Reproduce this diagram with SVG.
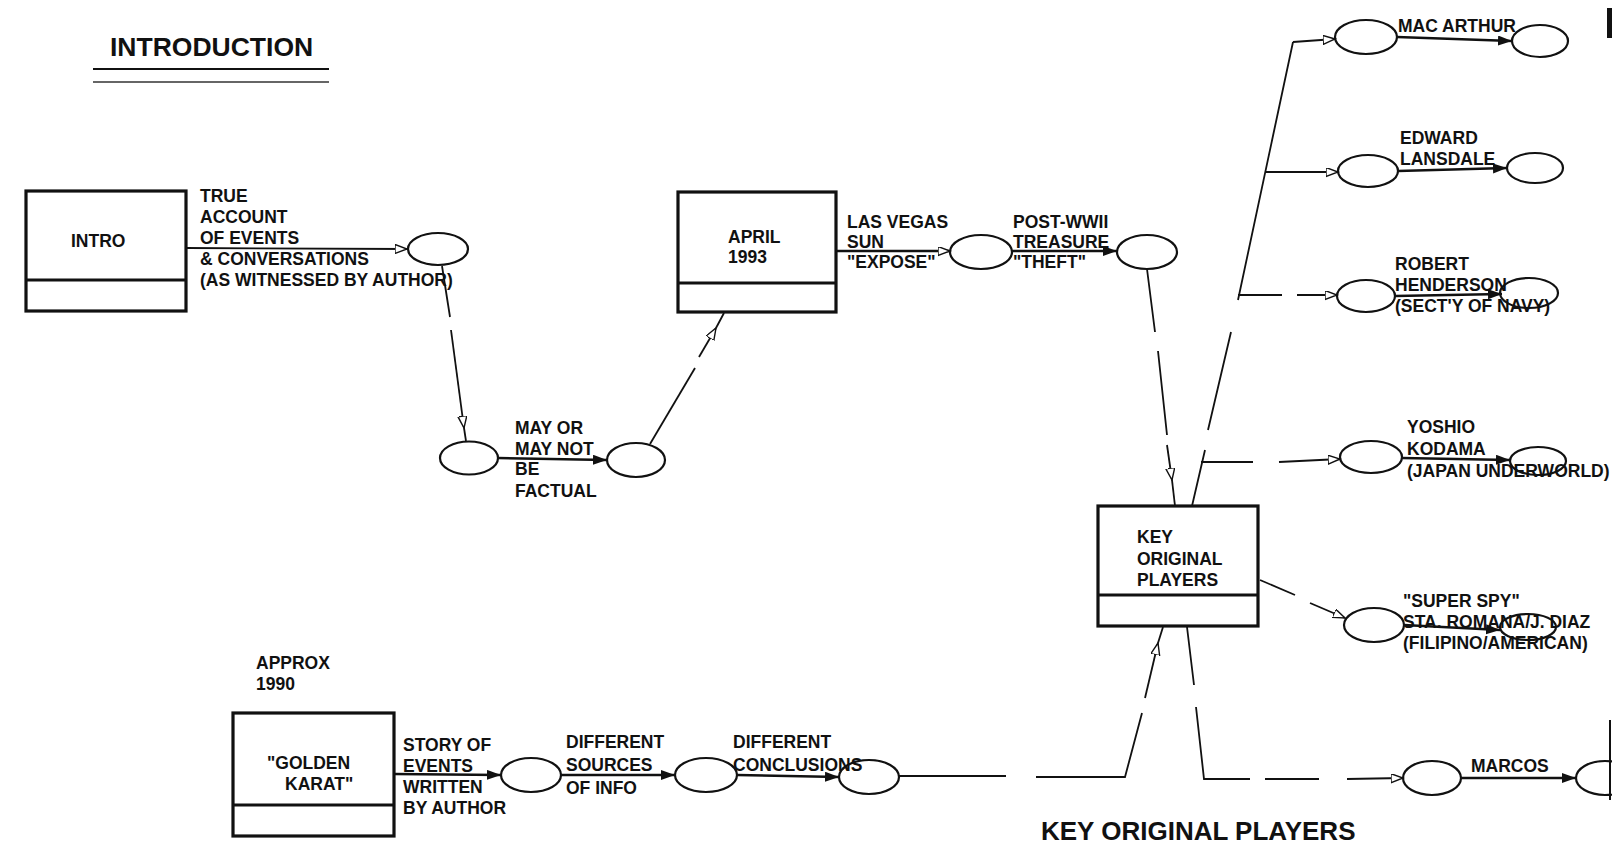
<svg xmlns="http://www.w3.org/2000/svg" width="1612" height="852" viewBox="0 0 1612 852">
<style>
text{font-family:"Liberation Sans",Arial,Helvetica,sans-serif;font-weight:bold;font-size:17.5px;fill:#111}
.title{font-size:26.5px}
.caption{font-size:26px}
.box{fill:none;stroke:#111;stroke-width:3.2}
.div{stroke:#111;stroke-width:3.2}
.el{fill:none;stroke:#111;stroke-width:2.2}
.c{fill:none;stroke:#111;stroke-width:1.8}
.cf{fill:none;stroke:#111;stroke-width:2.4}
.o{marker-end:url(#open)}
.f{marker-end:url(#fill)}
</style>
<defs>
<marker id="open" markerUnits="userSpaceOnUse" markerWidth="14" markerHeight="10" refX="12" refY="4.5" orient="auto">
<path d="M0,0 L12,4.5 L0,9 z" fill="#fff" stroke="#111" stroke-width="1.4"/>
</marker>
<marker id="fill" markerUnits="userSpaceOnUse" markerWidth="16" markerHeight="11" refX="14" refY="5" orient="auto">
<path d="M0,0 L14,5 L0,10 z" fill="#111"/>
</marker>
</defs>
<rect width="1612" height="852" fill="#fff"/>

<g id="title">
<text class="title" x="110" y="56">INTRODUCTION</text>
<line x1="93" y1="69" x2="329" y2="69" stroke="#111" stroke-width="2"/>
<line x1="93" y1="82" x2="329" y2="82" stroke="#333" stroke-width="1.4"/>
</g>

<g id="connectors">
<path class="c o" d="M186,248 L407,249"/>
<path class="c" d="M442,266 L450,317"/>
<path class="c o" d="M451,330 L464,428"/>
<path class="c" d="M464,428 L466,441"/>
<path class="cf f" d="M498,458 L607,460"/>
<path class="c" d="M650,444 L695,368"/>
<path class="c o" d="M699,357 L716,328"/>
<path class="c" d="M716,328 L724,313"/>
<path class="cf o" d="M836,251 L950,251"/>
<path class="cf f" d="M1012,251 L1117,251"/>
<path class="c" d="M1147,269 L1155,332 M1158,351 L1167,435"/>
<path class="c o" d="M1167,445 L1172,480"/>
<path class="c" d="M1172,480 L1175,506"/>
<path class="c" d="M1192,506 L1205,450 M1208,430 L1231,332 M1238,300 L1293,42"/>
<path class="c o" d="M1293,42 L1335,39"/>
<path class="cf f" d="M1397,37 L1512,41"/>
<path class="c o" d="M1265,172 L1338,172"/>
<path class="cf f" d="M1398,171 L1507,168"/>
<path class="c" d="M1238,295 L1282,295"/>
<path class="c o" d="M1297,295 L1337,295"/>
<path class="cf f" d="M1395,296 L1502,294"/>
<path class="c" d="M1201,462 L1253,462"/>
<path class="c o" d="M1279,462 L1340,459"/>
<path class="cf f" d="M1402,458 L1510,460"/>
<path class="c" d="M1260,580 L1295,595"/>
<path class="c o" d="M1310,603 L1345,618"/>
<path class="cf f" d="M1404,625 L1500,630"/>
<path class="cf f" d="M394,774 L501,775"/>
<path class="cf f" d="M561,775 L675,775"/>
<path class="cf f" d="M737,775 L839,777"/>
<path class="c" d="M899,776 L1006,776 M1036,777 L1125,777 L1142,713"/>
<path class="c o" d="M1145,698 L1158,643"/>
<path class="c" d="M1158,643 L1163,627"/>
<path class="c" d="M1187,627 L1194,685 M1196,707 L1204,779 L1250,779 M1265,779 L1319,779"/>
<path class="c o" d="M1347,779 L1403,778"/>
<path class="cf f" d="M1461,778 L1576,778"/>
</g>

<g id="intro">
<rect class="box" x="26" y="191" width="160" height="120"/>
<line class="div" x1="26" y1="280" x2="186" y2="280"/>
<text x="71" y="247">INTRO</text>
</g>
<g id="intro-label">
<text x="200" y="202">TRUE</text>
<text x="200" y="223">ACCOUNT</text>
<text x="200" y="244">OF EVENTS</text>
<text x="200" y="265">&amp; CONVERSATIONS</text>
<text x="200" y="286">(AS WITNESSED BY AUTHOR)</text>
</g>
<g id="e1"><ellipse class="el" cx="438" cy="249" rx="30" ry="16"/></g>
<g id="e2"><ellipse class="el" cx="469" cy="458" rx="29" ry="16.5"/></g>
<g id="e3"><ellipse class="el" cx="636" cy="460" rx="29" ry="17"/></g>
<g id="may-label">
<text x="515" y="434">MAY OR</text>
<text x="515" y="455">MAY NOT</text>
<text x="515" y="475">BE</text>
<text x="515" y="497">FACTUAL</text>
</g>

<g id="april">
<rect class="box" x="678" y="192" width="158" height="120"/>
<line class="div" x1="678" y1="283" x2="836" y2="283"/>
<text x="728" y="243">APRIL</text>
<text x="728" y="263">1993</text>
</g>
<g id="vegas-label">
<text x="847" y="228">LAS VEGAS</text>
<text x="847" y="248">SUN</text>
<text x="847" y="268">"EXPOSE"</text>
</g>
<g id="e4"><ellipse class="el" cx="981" cy="252" rx="31" ry="17"/></g>
<g id="treasure-label">
<text x="1013" y="228">POST-WWII</text>
<text x="1013" y="248">TREASURE</text>
<text x="1013" y="268">"THEFT"</text>
</g>
<g id="e5"><ellipse class="el" cx="1147" cy="252" rx="30" ry="17"/></g>

<g id="key">
<rect class="box" x="1098" y="506" width="160" height="120"/>
<line class="div" x1="1098" y1="595" x2="1258" y2="595"/>
<text x="1137" y="543">KEY</text>
<text x="1137" y="565">ORIGINAL</text>
<text x="1137" y="586">PLAYERS</text>
</g>

<g id="macarthur">
<ellipse class="el" cx="1366" cy="37" rx="31" ry="17"/>
<ellipse class="el" cx="1540" cy="41" rx="28" ry="16"/>
<text x="1398" y="32">MAC ARTHUR</text>
</g>
<g id="lansdale">
<ellipse class="el" cx="1368" cy="171" rx="30" ry="16"/>
<ellipse class="el" cx="1535" cy="168" rx="28" ry="15"/>
<text x="1400" y="144">EDWARD</text>
<text x="1400" y="165">LANSDALE</text>
</g>
<g id="henderson">
<ellipse class="el" cx="1366" cy="296" rx="29" ry="16"/>
<ellipse class="el" cx="1529" cy="293" rx="29" ry="15"/>
<text x="1395" y="270">ROBERT</text>
<text x="1395" y="291">HENDERSON</text>
<text x="1395" y="312">(SECT'Y OF NAVY)</text>
</g>
<g id="kodama">
<ellipse class="el" cx="1371" cy="457" rx="31" ry="16"/>
<ellipse class="el" cx="1538" cy="461" rx="28" ry="14"/>
<text x="1407" y="433">YOSHIO</text>
<text x="1407" y="455">KODAMA</text>
<text x="1407" y="477">(JAPAN UNDERWORLD)</text>
</g>
<g id="superspy">
<ellipse class="el" cx="1374" cy="625" rx="30" ry="17"/>
<ellipse class="el" cx="1528" cy="627" rx="28" ry="13"/>
<text x="1403" y="607">"SUPER SPY"</text>
<text x="1403" y="628">STA. ROMANA/J. DIAZ</text>
<text x="1403" y="649">(FILIPINO/AMERICAN)</text>
</g>
<g id="marcos">
<ellipse class="el" cx="1432" cy="778" rx="29" ry="17"/>
<ellipse class="el" cx="1605" cy="778" rx="29" ry="17"/>
<text x="1471" y="772">MARCOS</text>
</g>

<g id="golden">
<text x="256" y="669">APPROX</text>
<text x="256" y="690">1990</text>
<rect class="box" x="233" y="713" width="161" height="123"/>
<line class="div" x1="233" y1="805" x2="394" y2="805"/>
<text x="267" y="769">"GOLDEN</text>
<text x="285" y="790">KARAT"</text>
</g>
<g id="story-label">
<text x="403" y="751">STORY OF</text>
<text x="403" y="772">EVENTS</text>
<text x="403" y="793">WRITTEN</text>
<text x="403" y="814">BY AUTHOR</text>
</g>
<g id="e6"><ellipse class="el" cx="531" cy="775" rx="30" ry="17"/></g>
<g id="sources-label">
<text x="566" y="748">DIFFERENT</text>
<text x="566" y="771">SOURCES</text>
<text x="566" y="794">OF INFO</text>
</g>
<g id="e7"><ellipse class="el" cx="706" cy="775" rx="31" ry="17"/></g>
<g id="conclusions-label">
<text x="733" y="748">DIFFERENT</text>
<text x="733" y="771">CONCLUSIONS</text>
</g>
<g id="e8"><ellipse class="el" cx="869" cy="777" rx="30" ry="17"/></g>

<g id="caption">
<text class="caption" x="1041" y="840">KEY ORIGINAL PLAYERS</text>
</g>
<g id="edge-marks">
<rect x="1607" y="8" width="5" height="30" fill="#111"/>
<line x1="1610" y1="720" x2="1610" y2="800" stroke="#111" stroke-width="2"/>
</g>
</svg>
